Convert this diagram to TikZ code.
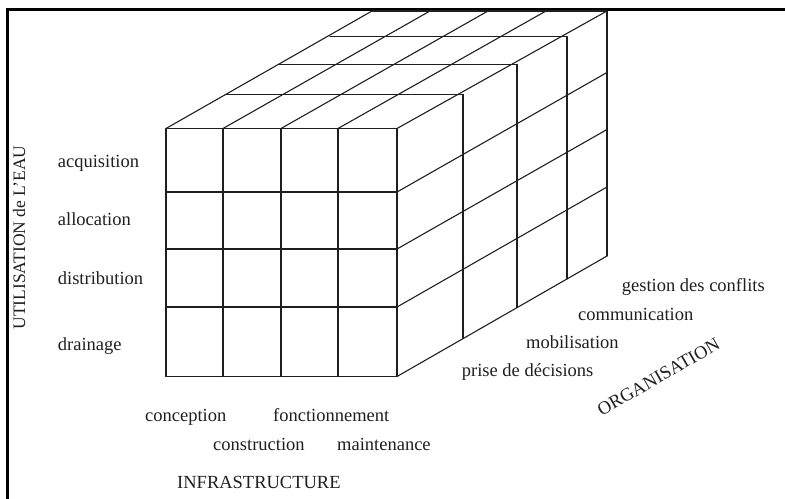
\documentclass[tikz,border=0pt]{standalone}
\usepackage{fontspec}
\setmainfont{Liberation Serif}
\begin{document}
\begin{tikzpicture}[x=1bp,y=-1bp,
  gridline/.style={line width=1.1bp,draw=black!88,line cap=round},
  frameline/.style={line width=3bp,draw=black},
  lbl/.style={inner sep=0pt,text=black!88,font=\fontsize{18.5bp}{22bp}\selectfont},
  axislbl/.style={inner sep=0pt,text=black!88,font=\fontsize{17.5bp}{21bp}\selectfont}]
\useasboundingbox (0,0) rectangle (785,499);
% frame (top and left borders visible)
\draw[frameline] (7.5,499) -- (7.5,9.5) -- (785,9.5);
% front face
\foreach \x in {166,223,281,338,397} \draw[gridline] (\x,128.5) -- (\x,376.5);
\foreach \y in {128.5,192,249,307,376.5} \draw[gridline] (166,\y) -- (397,\y);
% top face diagonals
\foreach \x/\b in {166/372,223/430,281/488,338/546,397/607}
  \draw[gridline] (\x,128.5) -- (\b,11);
% top face depth lines
\draw[gridline] (226.5,94.3) -- (463,94.3);
\draw[gridline] (279,64.3) -- (517,64.3);
\draw[gridline] (330,36.7) -- (567,36.7);
\draw[gridline] (372,11) -- (607,11);
% right face verticals
\draw[gridline] (463,94.3) -- (463,338.6);
\draw[gridline] (517,64.3) -- (517,307.6);
\draw[gridline] (567,36.7) -- (567,279);
\draw[gridline] (607,11) -- (607,256);
% right face rows
\draw[gridline] (397,192) -- (607,72.5);
\draw[gridline] (397,249) -- (607,129.5);
\draw[gridline] (397,307) -- (607,187);
\draw[gridline] (397,376.5) -- (607,256);
% row labels
\node[lbl,anchor=base west] (acq) at (57.7,168) {acquisition};
\node[lbl,anchor=base west] (all) at (57.7,226) {allocation};
\node[lbl,anchor=base west] (dis) at (57.7,285) {distribution};
\node[lbl,anchor=base west] (dra) at (57.7,350) {drainage};
\node[axislbl,anchor=base,rotate=90] (util) at (25,237.5) {UTILISATION de L'EAU};
% column labels
\node[lbl,anchor=base west] (con) at (145,421.7) {conception};
\node[lbl,anchor=base west] (fon) at (273,421.7) {fonctionnement};
\node[lbl,anchor=base west] (cst) at (213,450) {construction};
\node[lbl,anchor=base west] (mai) at (337,450) {maintenance};
\node[lbl,anchor=base west] (infra) at (177,488) {INFRASTRUCTURE};
% depth labels
\node[lbl,anchor=base west] (ges) at (621.7,291.7) {gestion des conflits};
\node[lbl,anchor=base west] (com) at (578,320) {communication};
\node[lbl,anchor=base west] (mob) at (526,348.3) {mobilisation};
\node[lbl,anchor=base west] (pri) at (461.7,376.7) {prise de décisions};
\node[lbl,anchor=base west,rotate=30] (org) at (601.7,416.7) {ORGANISATION};
\end{tikzpicture}
\end{document}
